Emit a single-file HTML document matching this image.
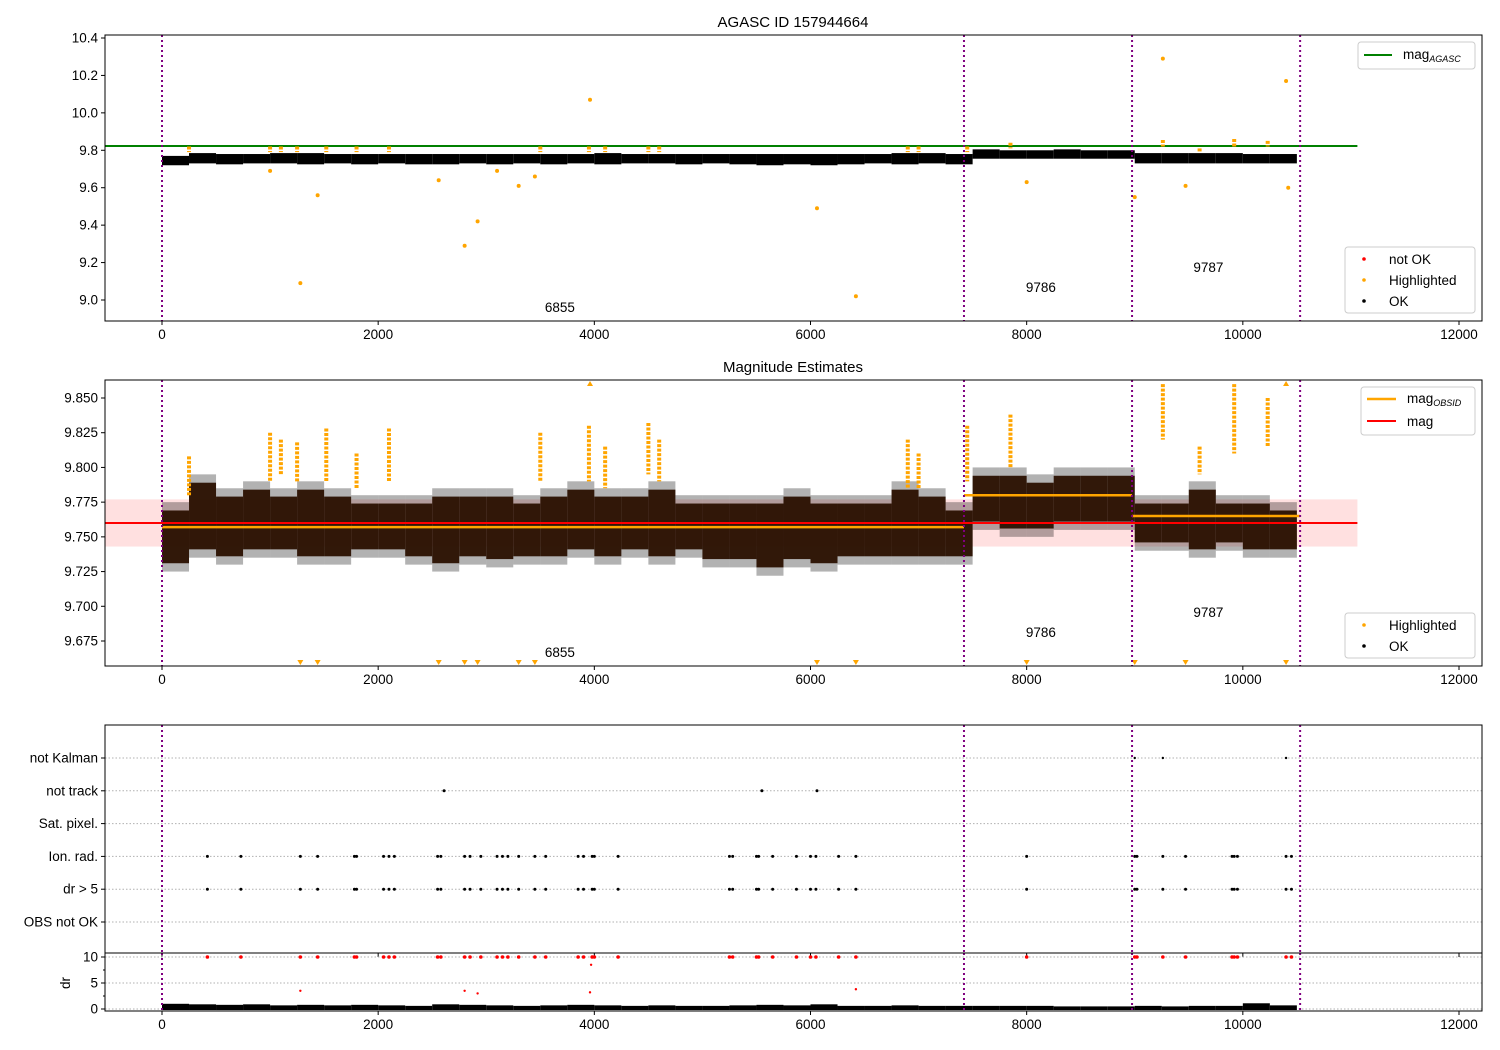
<!DOCTYPE html>
<html><head><meta charset="utf-8"><style>
body{margin:0;background:#fff}
svg{display:block;font-family:"Liberation Sans","DejaVu Sans",sans-serif}
</style></head><body>
<svg id="c" width="1500" height="1050" viewBox="0 0 1500 1050" xmlns="http://www.w3.org/2000/svg"></svg>
<script>
// ---- data ----
const xTicks=[0,2000,4000,6000,8000,10000,12000];
const obsBounds=[0,7420,8975,10530];
const obsIds=['6855','9786','9787'];
const obsLabelX=[3700,8150,9700];
const binX=[0,250,500,750,1000,1250,1500,1750,2000,2250,2500,2750,3000,3250,3500,3750,4000,4250,4500,4750,5000,5250,5500,5750,6000,6250,6500,6750,7000,7250,7500,7750,8000,8250,8500,8750,9000,9250,9500,9750,10000,10250];
const binW=250;
const magLo=[9.725,9.735,9.730,9.735,9.735,9.730,9.730,9.735,9.735,9.730,9.725,9.730,9.728,9.730,9.730,9.735,9.730,9.735,9.730,9.735,9.728,9.728,9.722,9.728,9.725,9.730,9.730,9.730,9.730,9.730,9.755,9.750,9.750,9.755,9.755,9.755,9.740,9.740,9.735,9.740,9.735,9.735];
const magHi=[9.775,9.795,9.785,9.790,9.785,9.790,9.785,9.780,9.780,9.780,9.785,9.785,9.785,9.780,9.785,9.790,9.785,9.785,9.790,9.780,9.780,9.780,9.780,9.785,9.780,9.780,9.780,9.790,9.785,9.775,9.800,9.800,9.795,9.800,9.800,9.800,9.780,9.780,9.790,9.780,9.780,9.775];
const agLo=[9.72,9.73,9.725,9.73,9.73,9.725,9.73,9.725,9.73,9.725,9.725,9.73,9.725,9.73,9.725,9.73,9.725,9.73,9.73,9.725,9.73,9.725,9.72,9.725,9.72,9.725,9.73,9.725,9.73,9.725,9.755,9.755,9.755,9.755,9.755,9.755,9.73,9.73,9.73,9.73,9.73,9.73];
const agHi=[9.77,9.785,9.78,9.78,9.785,9.785,9.78,9.78,9.78,9.78,9.78,9.78,9.78,9.78,9.78,9.78,9.785,9.78,9.78,9.78,9.78,9.78,9.78,9.78,9.78,9.78,9.78,9.785,9.785,9.78,9.805,9.80,9.80,9.805,9.80,9.80,9.785,9.785,9.785,9.785,9.78,9.78];
const drHi=[1.0,0.9,0.8,0.9,0.7,0.8,0.7,0.8,0.7,0.6,0.9,0.8,0.7,0.6,0.7,0.8,0.7,0.6,0.7,0.6,0.6,0.7,0.8,0.7,0.9,0.6,0.6,0.7,0.6,0.6,0.6,0.6,0.6,0.5,0.5,0.5,0.6,0.5,0.6,0.6,1.1,0.7];
const segMag=[9.757,9.780,9.765];
const magMean=9.760, magBandLo=9.743, magBandHi=9.777, magAgasc=9.823;
const hlX=[250,1000,1100,1250,1520,1800,2100,3500,3950,4100,4500,4600,6900,7000,7450,7850,9260,9600,9920,10230];
const hlLo=[9.780,9.790,9.795,9.790,9.790,9.785,9.790,9.790,9.790,9.785,9.795,9.790,9.785,9.785,9.790,9.800,9.820,9.795,9.810,9.815];
const hlHi=[9.808,9.825,9.820,9.818,9.828,9.810,9.828,9.825,9.830,9.815,9.832,9.820,9.820,9.810,9.830,9.838,9.860,9.815,9.860,9.850];
const hlAgLo=[9.79,9.79,9.79,9.79,9.79,9.79,9.79,9.79,9.79,9.79,9.79,9.79,9.79,9.79,9.79,9.81,9.82,9.79,9.82,9.82];
const hlAgHi=[9.82,9.82,9.82,9.82,9.82,9.82,9.82,9.82,9.82,9.82,9.82,9.82,9.82,9.82,9.82,9.84,9.855,9.81,9.86,9.85];
const outX=[1280,1440,2800,2920,3960,6060,6420,8000,9000,9260,9470,10400,10420,3300,3450,2560,1000,3100];
const outMag=[9.09,9.56,9.29,9.42,10.07,9.49,9.02,9.63,9.55,10.29,9.61,10.17,9.60,9.61,9.66,9.64,9.69,9.69];
const lowTriX=[1280,1440,2560,2800,2920,3300,3450,6060,6420,8000,9000,9470,10400];
const highTriX=[3960,10400];
const flagCats=['OBS not OK','dr > 5','Ion. rad.','Sat. pixel.','not track','not Kalman'];
const ionX=[420,730,1280,1440,1780,1800,2050,2100,2150,2550,2580,2800,2850,2950,3100,3150,3200,3300,3450,3550,3850,3900,3980,4000,4220,5250,5280,5500,5520,5650,5870,6000,6050,6260,6420,8000,9000,9020,9260,9470,9900,9920,9950,10400,10450];
const trackX=[2610,5550,6060];
const kalmanX=[9000,9260,10400];
const drOutX=[1280,2800,2920,3960,3970,6420];
const drOutV=[3.5,3.5,3.0,3.2,8.5,3.8];

// ---- helpers ----
const S=document.getElementById('c');const NS='http://www.w3.org/2000/svg';
function mk(t,a,p){const e=document.createElementNS(NS,t);for(const k in a)e.setAttribute(k,a[k]);(p||S).appendChild(e);return e;}
const X0=105,X1=1482;
const sx=v=>162+v*(1297/12000);
function lin(d0,d1,r0,r1){return v=>r0+(v-d0)*(r1-r0)/(d1-d0);}
const y1=lin(10.4,9.0,38,300);
const y2=lin(9.850,9.675,398,641);
const y3=i=>922-i*32.8;
const y4=lin(10,0,957,1009);
const FS=13.5;

function frame(name){
  const g=mk('g',{});
  
  return g;
}
function xAxis(bot,labels,g){
  xTicks.forEach(t=>{mk('line',{x1:sx(t),x2:sx(t),y1:bot,y2:bot+4,stroke:'#000'},g);
    if(labels){const tx=mk('text',{x:sx(t),y:bot+18,'font-size':FS,'text-anchor':'middle'},g);tx.textContent=t;}});
}
function yTick(y,label,g){mk('line',{x1:X0-4,x2:X0,y1:y,y2:y,stroke:'#000'},g);
  const t=mk('text',{x:X0-7,y:y+4.5,'font-size':FS,'text-anchor':'end'},g);t.textContent=label;}
function vlines(top,bot,g){obsBounds.forEach(b=>mk('line',{x1:sx(b),x2:sx(b),y1:top,y2:bot,stroke:'#800080','stroke-width':2,'stroke-dasharray':'2,3'},g));}
function border(top,bot,g){mk('rect',{x:X0,y:top,width:X1-X0,height:bot-top,fill:'none',stroke:'#000','stroke-width':1},g);}
function dots(xs,ys,col,r,g,name){xs.forEach((x,i)=>{const c=mk('circle',{cx:sx(x),cy:ys[i],r:r,fill:col},g);});}
function txt(x,y,s,size,g,anchor,name){const t=mk('text',{x:x,y:y,'font-size':size,'text-anchor':anchor||'start'},g);t.textContent=s;if(name){}return t;}
function cluster(xs,lo,hi,ys,g){xs.forEach((x,i)=>{
  const a=ys(hi[i]),b=ys(lo[i]);
  const l=mk('line',{x1:sx(x),x2:sx(x),y1:a,y2:b,stroke:'#ffa500','stroke-width':4,'stroke-dasharray':'3,1.5'},g);
  });}

// ---- panel 1 ----
let g=frame('agasc-panel');
txt(793,27,'AGASC ID 157944664',15,g,'middle','title');
mk('line',{x1:X0,x2:sx(11060),y1:y1(magAgasc),y2:y1(magAgasc),stroke:'#008000','stroke-width':2},g);
binX.forEach((b,i)=>{const w=Math.min(binW,10530-b);
  const r=mk('rect',{x:sx(b),y:y1(agHi[i]),width:sx(b+w)-sx(b),height:y1(agLo[i])-y1(agHi[i]),fill:'#000'},g);
  });
cluster(hlX,hlAgLo,hlAgHi,y1,g);
dots(outX,outX.map((x,i)=>y1(outMag[i])),'#ffa500',2,g,'highlighted-point');
[10.4,10.2,10.0,9.8,9.6,9.4,9.2,9.0].forEach(v=>yTick(y1(v),v.toFixed(1),g));
xAxis(321,true,g);vlines(35,321,g);
obsIds.forEach((s,i)=>txt(sx(obsLabelX[i])-17,[312,292,272][i],s,FS,g,'start','obsid-label'));
border(35,321,g);
let lg=mk('g',{},g);
mk('rect',{x:1358,y:42,width:117,height:27,rx:3,fill:'#fff',stroke:'#ccc'},lg);
mk('line',{x1:1364,x2:1392,y1:55,y2:55,stroke:'#008000','stroke-width':2},lg);
let t=txt(1403,59,'mag',FS,lg);let ts=mk('tspan',{'font-size':9,'font-style':'italic',dy:3},t);ts.textContent='AGASC';
lg=mk('g',{},g);
mk('rect',{x:1345,y:247,width:130,height:66,rx:3,fill:'#fff',stroke:'#ccc'},lg);
[['not OK','#f00'],['Highlighted','#ffa500'],['OK','#000']].forEach((e,i)=>{mk('circle',{cx:1364,cy:259+i*21,r:1.8,fill:e[1]},lg);txt(1389,264+i*21,e[0],FS,lg);});

// ---- panel 2 ----
g=frame('magnitude-panel');
txt(793,372,'Magnitude Estimates',15,g,'middle','subtitle');
mk('rect',{x:X0,y:y2(magBandHi),width:sx(11060)-X0,height:y2(magBandLo)-y2(magBandHi),fill:'#f00','fill-opacity':0.12},g);
binX.forEach((b,i)=>{const w=Math.min(binW,10530-b);
  let r=mk('rect',{x:sx(b),y:y2(magHi[i]),width:sx(b+w)-sx(b),height:y2(magLo[i])-y2(magHi[i]),fill:'#000','fill-opacity':0.3},g);
  
  r=mk('rect',{x:sx(b),y:y2(magHi[i]-0.006),width:sx(b+w)-sx(b),height:y2(magLo[i]+0.006)-y2(magHi[i]-0.006),fill:'#2a1000','fill-opacity':0.95},g);
  });
cluster(hlX,hlLo,hlHi,y2,g);
segMag.forEach((v,i)=>{const l=mk('line',{x1:sx(obsBounds[i]),x2:sx(obsBounds[i+1]),y1:y2(v),y2:y2(v),stroke:'#ffa500','stroke-width':2.5},g);});
mk('line',{x1:X0,x2:sx(11060),y1:y2(magMean),y2:y2(magMean),stroke:'#f00','stroke-width':2},g);
lowTriX.forEach(x=>mk('path',{d:`M${sx(x)-3},${660} L${sx(x)+3},${660} L${sx(x)},${665} Z`,fill:'#ffa500'},g));
highTriX.forEach(x=>mk('path',{d:`M${sx(x)-3},${386} L${sx(x)+3},${386} L${sx(x)},${381} Z`,fill:'#ffa500'},g));
[9.850,9.825,9.800,9.775,9.750,9.725,9.700,9.675].forEach(v=>yTick(y2(v),v.toFixed(3),g));
xAxis(666,true,g);vlines(380,666,g);
obsIds.forEach((s,i)=>txt(sx(obsLabelX[i])-17,[657,637,617][i],s,FS,g,'start','obsid-label'));
border(380,666,g);
lg=mk('g',{},g);
mk('rect',{x:1361,y:387,width:114,height:48,rx:3,fill:'#fff',stroke:'#ccc'},lg);
mk('line',{x1:1367,x2:1396,y1:399,y2:399,stroke:'#ffa500','stroke-width':2.5},lg);
t=txt(1407,403,'mag',FS,lg);ts=mk('tspan',{'font-size':9,'font-style':'italic',dy:3},t);ts.textContent='OBSID';
mk('line',{x1:1367,x2:1396,y1:421,y2:421,stroke:'#f00','stroke-width':2},lg);txt(1407,426,'mag',FS,lg);
lg=mk('g',{},g);
mk('rect',{x:1345,y:613,width:130,height:45,rx:3,fill:'#fff',stroke:'#ccc'},lg);
[['Highlighted','#ffa500'],['OK','#000']].forEach((e,i)=>{mk('circle',{cx:1364,cy:625+i*21,r:1.8,fill:e[1]},lg);txt(1389,630+i*21,e[0],FS,lg);});

// ---- panel 3 flags ----
g=frame('flags-panel');
flagCats.forEach((c,i)=>{mk('line',{x1:X0,x2:X1,y1:y3(i),y2:y3(i),stroke:'#b0b0b0','stroke-dasharray':'1.5,2'},g);yTick(y3(i),c,g);});
dots(ionX,ionX.map(()=>y3(2)),'#000',1.5,g,'ion-rad-flag');
dots(ionX,ionX.map(()=>y3(1)),'#000',1.5,g,'dr5-flag');
dots(trackX,trackX.map(()=>y3(4)),'#000',1.5,g,'not-track-flag');
dots(kalmanX,kalmanX.map(()=>y3(5)),'#000',1.2,g,'not-kalman-flag');
xAxis(953,false,g);vlines(725,953,g);border(725,953,g);

// ---- panel 4 dr ----
g=frame('dr-panel');
[0,5,10].forEach(v=>{mk('line',{x1:X0,x2:X1,y1:y4(v),y2:y4(v),stroke:'#b0b0b0','stroke-dasharray':'1.5,2'},g);yTick(y4(v),v,g);});
[2.5,7.5].forEach(v=>mk('line',{x1:X0-2,x2:X0,y1:y4(v),y2:y4(v),stroke:'#000'},g));
binX.forEach((b,i)=>{const w=Math.min(binW,10530-b);const r=mk('rect',{x:sx(b),y:y4(drHi[i]),width:sx(b+w)-sx(b),height:y4(-0.2)-y4(drHi[i]),fill:'#000'},g);});
dots(ionX,ionX.map(()=>y4(10)),'#f00',1.8,g,'dr-capped-point');
dots(drOutX,drOutX.map((x,i)=>y4(drOutV[i])),'#f00',1.2,g,'dr-point');
const yl=mk('text',{x:70,y:983,'font-size':FS,'text-anchor':'middle',transform:'rotate(-90 70 983)'},g);yl.textContent='dr';
xAxis(1011,true,g);vlines(953,1011,g);border(953,1011,g);
</script>
</body></html>
